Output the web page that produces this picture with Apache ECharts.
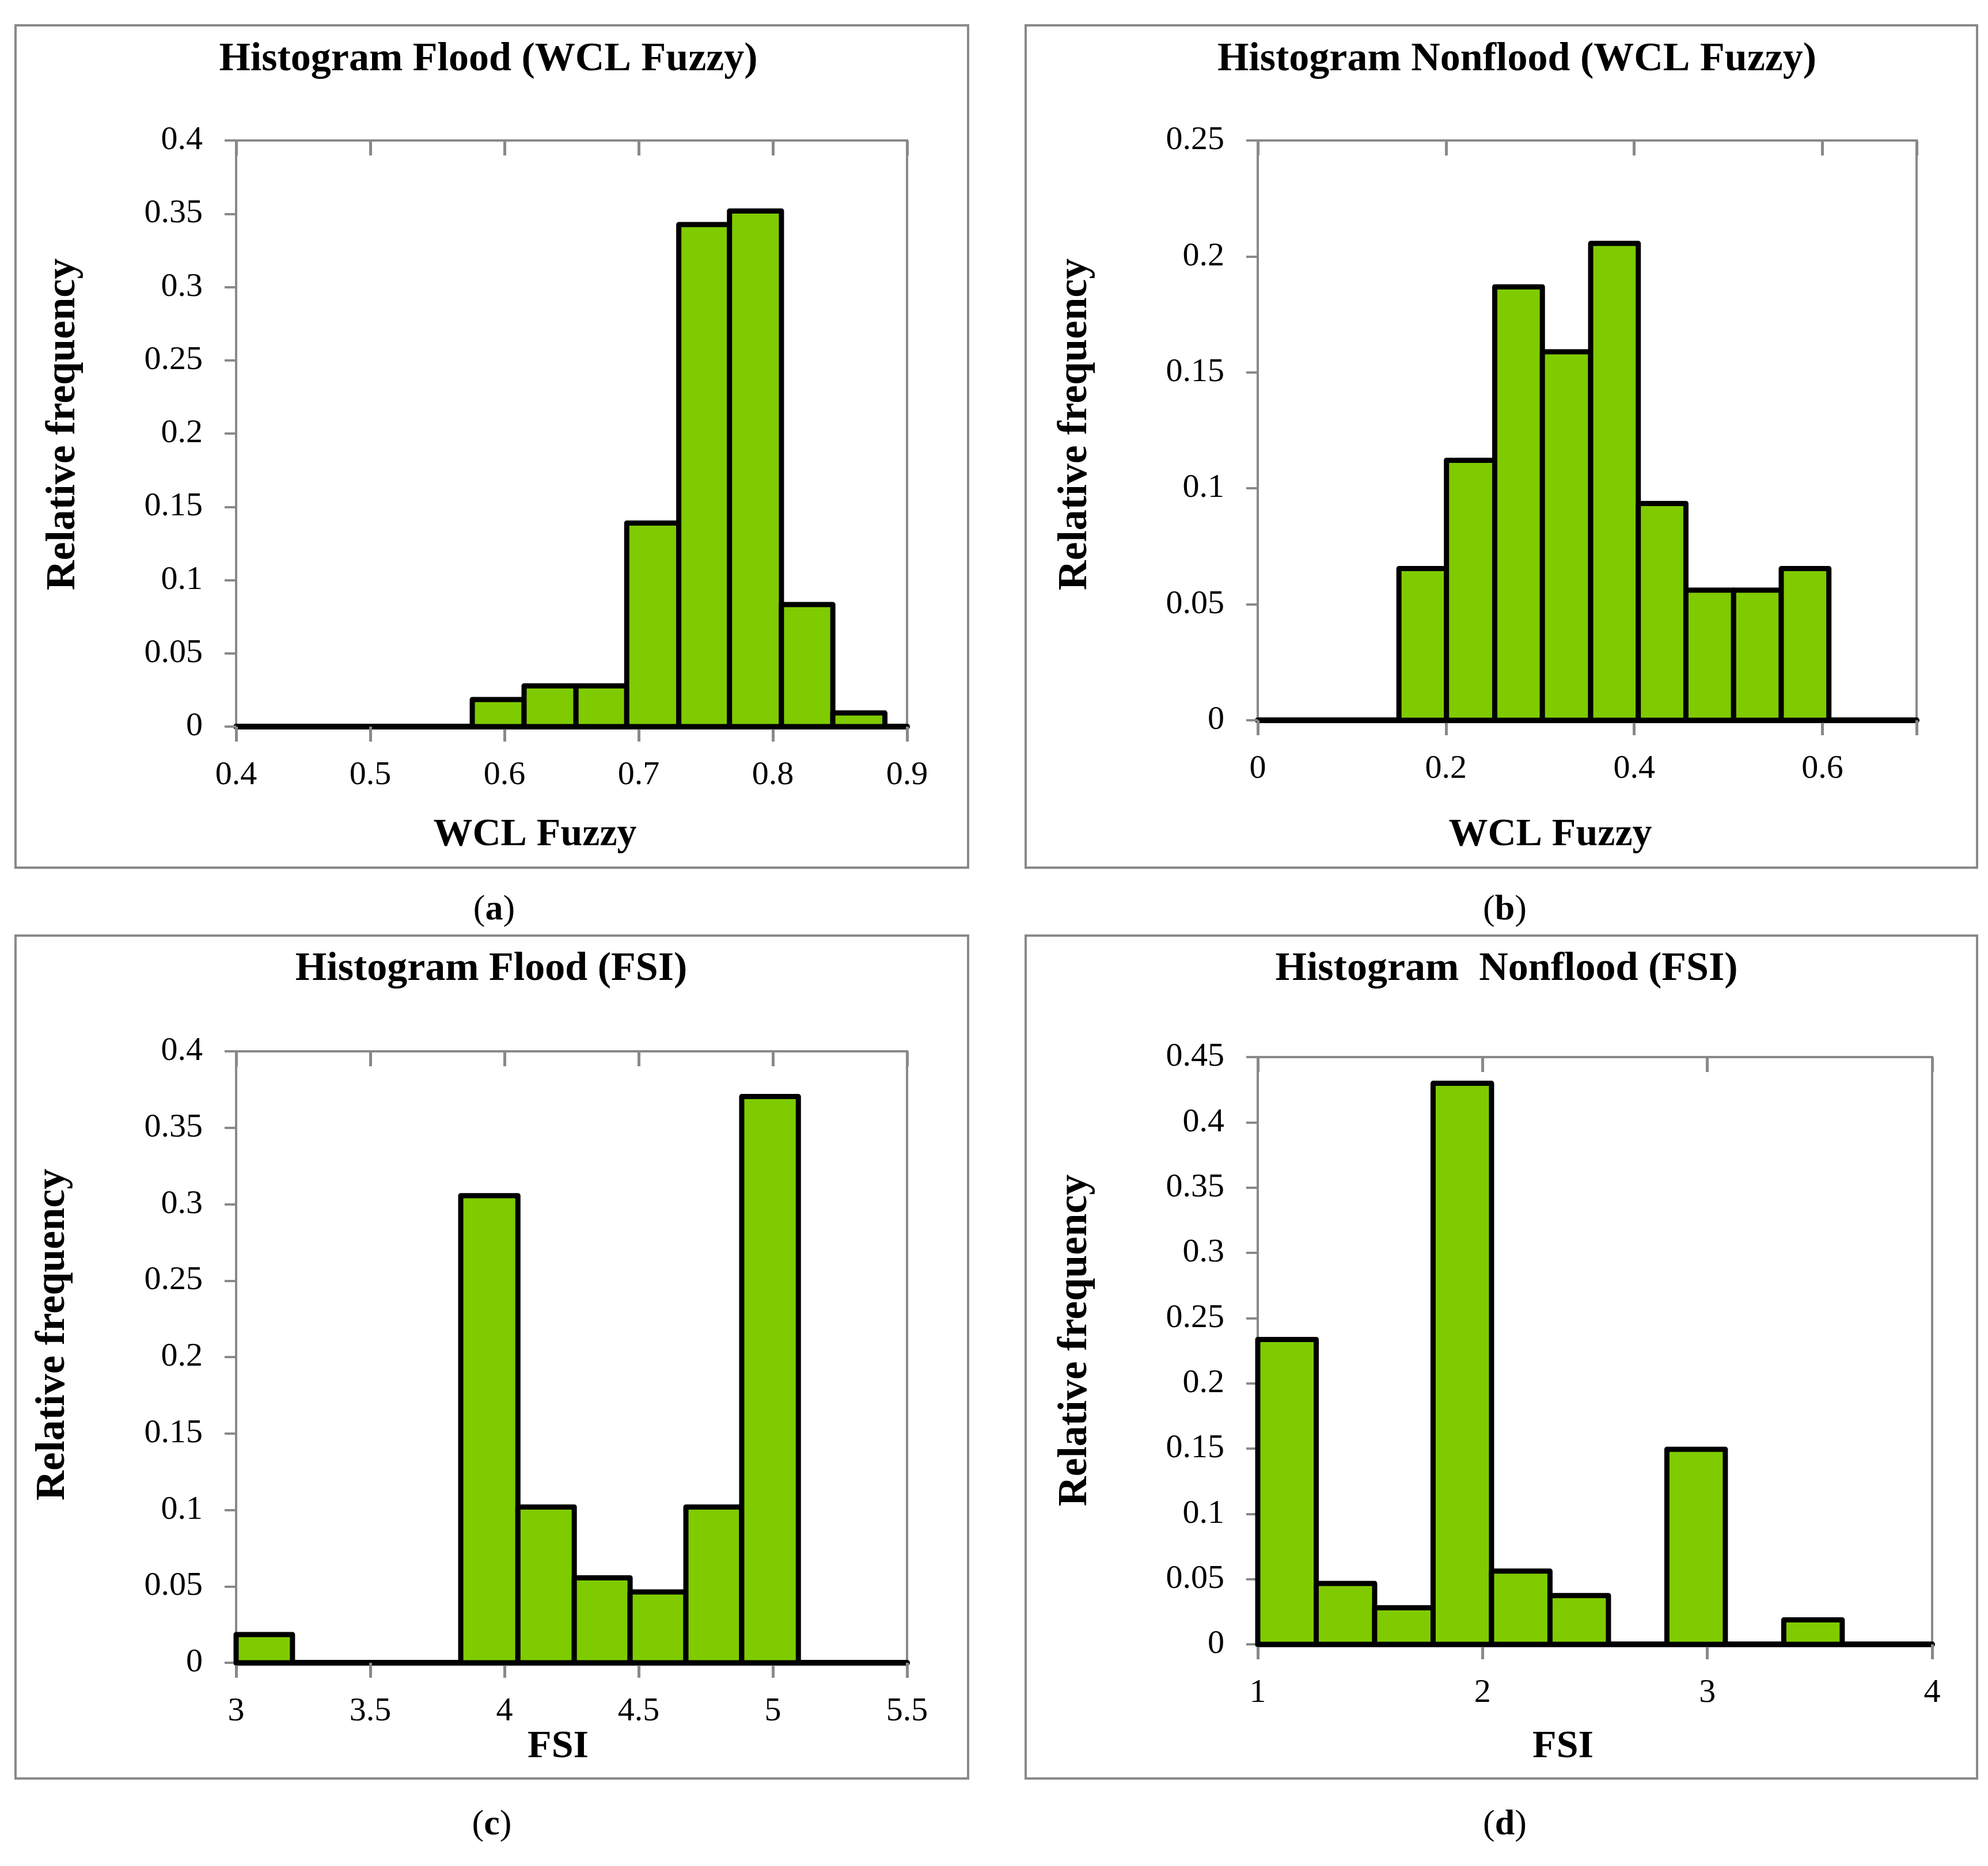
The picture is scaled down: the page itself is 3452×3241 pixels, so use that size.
<!DOCTYPE html>
<html>
<head>
<meta charset="utf-8">
<title>Histograms WCL Fuzzy / FSI</title>
<script src="https://cdn.jsdelivr.net/npm/echarts@6/dist/echarts.min.js"></script>
<style>
  html, body { margin: 0; padding: 0; background: #fff; }
  #main { width: 3452px; height: 3241px; }
</style>
</head>
<body>
<div id="main"></div>
<script>
// bin edges, relative frequency per bin
const edgesA = [0.576, 0.6146, 0.6533, 0.6911, 0.7299, 0.7677, 0.8064, 0.8447, 0.8835];
const freqA = [0.0185, 0.0278, 0.0278, 0.1389, 0.3426, 0.3519, 0.0833, 0.0093];

const edgesB = [0.15, 0.2005, 0.2518, 0.3024, 0.3537, 0.4043, 0.4549, 0.5056, 0.5562, 0.6068];
const freqB = [0.0654, 0.1121, 0.1869, 0.1589, 0.2056, 0.0935, 0.0561, 0.0561, 0.0654];

const edgesC = [3.0, 3.21, 3.837, 4.05, 4.26, 4.468, 4.676, 4.884, 5.095];
const freqC = [0.0185, 0, 0.3056, 0.1019, 0.0556, 0.0463, 0.1019, 0.3704];

const edgesD = [1.0, 1.26, 1.52, 1.78, 2.04, 2.30, 2.56, 2.82, 3.08, 3.34, 3.60];
const freqD = [0.2336, 0.0467, 0.028, 0.4299, 0.0561, 0.0374, 0, 0.1495, 0, 0.0187];

// axis ranges
const xRangeA = [0.4, 0.9, 0.1];
const xRangeB = [0, 0.7, 0.2];
const xRangeC = [3, 5.5, 0.5];
const xRangeD = [1, 4, 1];
const yMaxA = 0.4, yMaxB = 0.25, yMaxC = 0.4, yMaxD = 0.45;

const titles = ['Histogram Flood (WCL Fuzzy)', 'Histogram Nonflood (WCL Fuzzy)',
                'Histogram Flood (FSI)', 'Histogram  Nonflood (FSI)'];
const xNames = ['WCL Fuzzy', 'WCL Fuzzy', 'FSI', 'FSI'];
const captions = ['a', 'b', 'c', 'd'];

const FONT = "'Palatino Linotype', 'Book Antiqua', Palatino, 'Liberation Serif', serif";
const GREEN = '#7fcb00';
const GRAY = '#898989';

// layout of each panel (pixels)
const panels = [
  { grid: [410, 244, 1165, 1018], box: [27, 44, 1654, 1463], title: [848, 104], yName: [110, 737], xName: [929, 1450], cap: [858, 1581] },
  { grid: [2184, 244, 1144, 1007], box: [1781, 44, 1652, 1463], title: [2634, 104], yName: [1867, 737], xName: [2692, 1450], cap: [2613, 1581] },
  { grid: [410, 1826, 1165, 1062], box: [27, 1625, 1654, 1464], title: [853, 1684], yName: [92, 2318], xName: [969, 3034], cap: [854, 3170] },
  { grid: [2184, 1836, 1171, 1020], box: [1781, 1625, 1652, 1464], title: [2616, 1684], yName: [1867, 2328], xName: [2714, 3034], cap: [2613, 3170] }
];

const allEdges = [edgesA, edgesB, edgesC, edgesD];
const allFreq = [freqA, freqB, freqC, freqD];
const xRanges = [xRangeA, xRangeB, xRangeC, xRangeD];
const yMaxes = [yMaxA, yMaxB, yMaxC, yMaxD];

function binData(edges, freq) {
  const out = [];
  freq.forEach((f, i) => {
    if (f > 0) out.push([edges[i], edges[i + 1], f]);
  });
  return out;
}

function renderBin(params, api) {
  const p0 = api.coord([api.value(0), api.value(2)]);
  const p1 = api.coord([api.value(1), 0]);
  return {
    type: 'rect',
    shape: { x: p0[0], y: p0[1], width: p1[0] - p0[0], height: p1[1] - p0[1] },
    style: { fill: GREEN, stroke: '#000', lineWidth: 9, lineJoin: 'round' }
  };
}

const grid = [], xAxis = [], yAxis = [], series = [], graphic = [];

panels.forEach((p, i) => {
  const [xmin, xmax, xstep] = xRanges[i];
  grid.push({
    left: p.grid[0], top: p.grid[1], width: p.grid[2], height: p.grid[3],
    show: true, borderColor: GRAY, borderWidth: 4, backgroundColor: 'transparent'
  });
  // main x axis: black line, ticks below, labels
  xAxis.push({
    type: 'value', gridIndex: i, min: xmin, max: xmax, interval: xstep,
    axisLine: { show: true, lineStyle: { color: '#000', width: 10 } },
    axisTick: { show: true, inside: false, length: 26, lineStyle: { color: GRAY, width: 5 } },
    axisLabel: {
      show: true, margin: 56, color: '#000', fontFamily: FONT, fontSize: 58,
      formatter: v => {
        const k = (v - xmin) / xstep;
        return Math.abs(k - Math.round(k)) < 1e-6 ? String(+v.toFixed(2)) : '';
      }
    },
    splitLine: { show: false }
  });
  // second x axis on same grid, only for the ticks crossing upward
  xAxis.push({
    type: 'value', gridIndex: i, min: xmin, max: xmax, interval: xstep,
    axisLine: { show: false },
    axisTick: { show: true, inside: true, length: 26, lineStyle: { color: GRAY, width: 5 } },
    axisLabel: { show: false },
    splitLine: { show: false }
  });
  yAxis.push({
    type: 'value', gridIndex: i, min: 0, max: yMaxes[i], interval: 0.05,
    axisLine: { show: true, lineStyle: { color: GRAY, width: 4 } },
    axisTick: { show: true, inside: false, length: 20, lineStyle: { color: GRAY, width: 4 } },
    axisLabel: { margin: 58, color: '#000', fontFamily: FONT, fontSize: 58 },
    splitLine: { show: false }
  });
  series.push({
    type: 'custom',
    xAxisIndex: i * 2, yAxisIndex: i,
    renderItem: renderBin,
    encode: { x: [0, 1], y: 2 },
    data: binData(allEdges[i], allFreq[i]),
    z: 3
  });

  graphic.push({
    type: 'rect', silent: true, z: -1,
    shape: { x: p.box[0], y: p.box[1], width: p.box[2], height: p.box[3] },
    style: { fill: 'transparent', stroke: GRAY, lineWidth: 4 }
  });
  graphic.push({
    type: 'text', x: p.title[0], y: p.title[1],
    style: { text: titles[i], fill: '#000', font: 'bold 70px ' + FONT, align: 'center', verticalAlign: 'middle' }
  });
  graphic.push({
    type: 'text', x: p.yName[0], y: p.yName[1], rotation: Math.PI / 2,
    style: { text: 'Relative frequency', fill: '#000', font: 'bold 72px ' + FONT, align: 'center', verticalAlign: 'middle' }
  });
  graphic.push({
    type: 'text', x: p.xName[0], y: p.xName[1],
    style: { text: xNames[i], fill: '#000', font: 'bold 68px ' + FONT, align: 'center', verticalAlign: 'middle' }
  });
  graphic.push({
    type: 'text', x: p.cap[0], y: p.cap[1],
    style: {
      text: '({b|' + captions[i] + '})', fill: '#000', font: '62px ' + FONT,
      align: 'center', verticalAlign: 'middle',
      rich: { b: { fontWeight: 'bold', fontSize: 62, fontFamily: FONT, fill: '#000' } }
    }
  });
});

const chart = echarts.init(document.getElementById('main'), null, { renderer: 'canvas' });
chart.setOption({
  backgroundColor: '#fff',
  animation: false,
  grid: grid,
  xAxis: xAxis,
  yAxis: yAxis,
  series: series,
  graphic: graphic
});
</script>
</body>
</html>
